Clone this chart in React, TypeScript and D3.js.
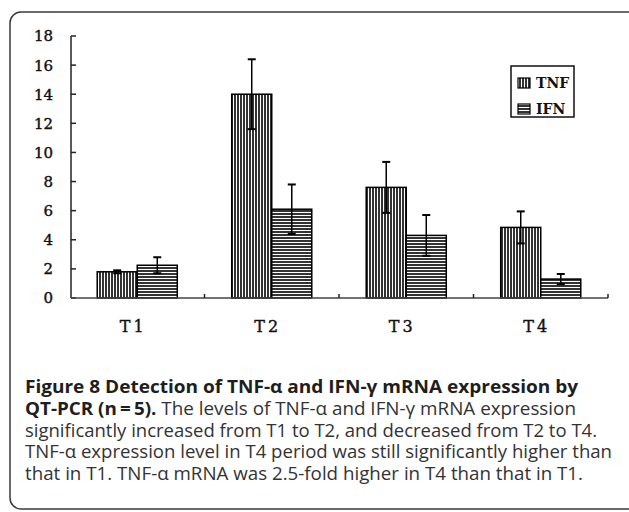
import React, { useRef, useEffect } from 'react';
import * as d3 from 'd3';

const periods = ['T1', 'T2', 'T3', 'T4'];
const seriesNames = ['TNF', 'IFN'];
const tnfMean = [1.8, 14.0, 7.6, 4.85];
const tnfErr = [0.1, 2.4, 1.75, 1.1];
const ifnMean = [2.25, 6.1, 4.3, 1.3];
const ifnErr = [0.55, 1.7, 1.4, 0.35];
const yTicks = [0, 2, 4, 6, 8, 10, 12, 14, 16, 18];

const captionLines = [
  [{ t: 'Figure 8 Detection of TNF-\u03b1 and IFN-\u03b3 mRNA expression by', b: true }],
  [{ t: 'QT-PCR (n\u2009=\u20095).', b: true }, { t: ' The levels of TNF-\u03b1 and IFN-\u03b3 mRNA expression', b: false }],
  [{ t: 'significantly increased from T1 to T2, and decreased from T2 to T4.', b: false }],
  [{ t: 'TNF-\u03b1 expression level in T4 period was still significantly higher than', b: false }],
  [{ t: 'that in T1. TNF-\u03b1 mRNA was 2.5-fold higher in T4 than that in T1.', b: false }],
];
const captionWidths = [553, 551, 572, 587, 558];

const W = 629;
const H = 512;

const App = () => {
  const svgRef = useRef(null);

  useEffect(() => {
    const svg = d3.select(svgRef.current);
    svg.selectAll('*').remove();

    const left = 71, right = 608, top = 36, bottom = 298;
    const tickFont = '"DejaVu Serif", serif';

    const defs = svg.append('defs');
    const pv = defs.append('pattern')
      .attr('id', 'vstripe').attr('patternUnits', 'userSpaceOnUse')
      .attr('width', 3).attr('height', 3);
    pv.append('rect').attr('width', 3).attr('height', 3).attr('fill', '#fff');
    pv.append('line').attr('x1', 1).attr('x2', 1).attr('y1', 0).attr('y2', 3)
      .attr('stroke', '#000').attr('stroke-width', 1.6);
    const ph = defs.append('pattern')
      .attr('id', 'hstripe').attr('patternUnits', 'userSpaceOnUse')
      .attr('width', 3).attr('height', 3);
    ph.append('rect').attr('width', 3).attr('height', 3).attr('fill', '#fff');
    ph.append('line').attr('x1', 0).attr('x2', 3).attr('y1', 1).attr('y2', 1)
      .attr('stroke', '#000').attr('stroke-width', 1.6);
    const fills = ['url(#vstripe)', 'url(#hstripe)'];

    // frame
    svg.append('rect')
      .attr('x', 10).attr('y', 12).attr('width', 630).attr('height', 497)
      .attr('rx', 11).attr('fill', 'none')
      .attr('stroke', '#3a3a3a').attr('stroke-width', 1.5);

    const x0 = d3.scaleBand().domain(periods).range([left - 1, right]).padding(0);
    const x1 = d3.scaleBand().domain(seriesNames).range([0, x0.bandwidth()])
      .paddingInner(0).paddingOuter(0.68);
    const y = d3.scaleLinear().domain([0, 18]).range([bottom, top]);

    const g = svg.append('g');

    // y axis
    g.append('line').attr('x1', left).attr('x2', left).attr('y1', top).attr('y2', bottom)
      .attr('stroke', '#222').attr('stroke-width', 1.5);
    yTicks.forEach(v => {
      g.append('line').attr('x1', left).attr('x2', left + 5)
        .attr('y1', y(v)).attr('y2', y(v))
        .attr('stroke', '#222').attr('stroke-width', 1.5);
      g.append('text').attr('x', 53).attr('y', y(v)).attr('dy', '0.36em')
        .attr('text-anchor', 'end')
        .style('font-family', tickFont)
        .style('font-size', '15px').attr('fill', '#111')
        .attr('stroke', '#111').attr('stroke-width', 0.4)
        .text(v);
    });

    const data = periods.map((p, i) => ({
      p,
      vals: [
        { s: 'TNF', m: tnfMean[i], e: tnfErr[i] },
        { s: 'IFN', m: ifnMean[i], e: ifnErr[i] },
      ],
    }));

    data.forEach(d => {
      d.vals.forEach((v, j) => {
        const bx = x0(d.p) + x1(v.s);
        g.append('rect')
          .attr('x', bx).attr('y', y(v.m))
          .attr('width', x1.bandwidth()).attr('height', y(0) - y(v.m))
          .attr('fill', fills[j]).attr('stroke', '#000').attr('stroke-width', 1.5);
      });
    });

    // error bars
    data.forEach(d => {
      d.vals.forEach(v => {
        const cx = x0(d.p) + x1(v.s) + x1.bandwidth() / 2;
        g.append('line').attr('x1', cx).attr('x2', cx)
          .attr('y1', y(v.m + v.e)).attr('y2', y(v.m - v.e))
          .attr('stroke', '#000').attr('stroke-width', 1.5);
        [v.m + v.e, v.m - v.e].forEach(c => {
          g.append('line').attr('x1', cx - 4).attr('x2', cx + 4)
            .attr('y1', y(c)).attr('y2', y(c))
            .attr('stroke', '#000').attr('stroke-width', 2);
        });
      });
    });

    // x axis
    g.append('line').attr('x1', left).attr('x2', right).attr('y1', bottom).attr('y2', bottom)
      .attr('stroke', '#444').attr('stroke-width', 1.5);
    periods.forEach(p => {
      const tx = x0(p) + x0.bandwidth();
      g.append('line').attr('x1', tx).attr('x2', tx).attr('y1', bottom).attr('y2', bottom - 4)
        .attr('stroke', '#222').attr('stroke-width', 1.5);
      g.append('text').attr('x', x0(p) + x0.bandwidth() / 2 - 4).attr('y', 326).attr('dy', '0.36em')
        .attr('text-anchor', 'middle')
        .style('font-family', tickFont)
        .style('font-size', '16px').style('letter-spacing', '3px').attr('fill', '#111')
        .attr('stroke', '#111').attr('stroke-width', 0.4)
        .text(p);
    });

    // legend
    const lg = svg.append('g');
    lg.append('rect').attr('x', 511).attr('y', 66).attr('width', 63).attr('height', 51)
      .attr('fill', '#fff').attr('stroke', '#111').attr('stroke-width', 1.5);
    seriesNames.forEach((s, i) => {
      const cy = 83 + i * 26;
      lg.append('rect').attr('x', 518).attr('y', cy - 5).attr('width', 12).attr('height', 10)
        .attr('fill', fills[i]).attr('stroke', '#000').attr('stroke-width', 1.2);
      lg.append('text').attr('x', 536).attr('y', cy).attr('dy', '0.36em')
        .style('font-family', tickFont)
        .style('font-size', '14px').style('font-weight', 'bold').attr('fill', '#111')
        .text(s);
    });

    // caption
    const cap = svg.append('g');
    captionLines.forEach((line, i) => {
      const t = cap.append('text').attr('x', 25).attr('y', 393 + i * 21.8)
        .attr('textLength', captionWidths[i]).attr('lengthAdjust', 'spacingAndGlyphs')
        .style('font-family', '"Open Sans", sans-serif').style('font-size', '18px');
      line.forEach(seg => {
        t.append('tspan')
          .style('font-weight', seg.b ? 'bold' : 'normal')
          .attr('fill', seg.b ? '#1e1e1e' : '#333')
          .text(seg.t);
      });
    });
  }, []);

  return (
    <svg ref={svgRef} width={W} height={H}
      style={{ position: 'absolute', left: 0, top: 0, background: '#fff', display: 'block' }} />
  );
};

export default App;
